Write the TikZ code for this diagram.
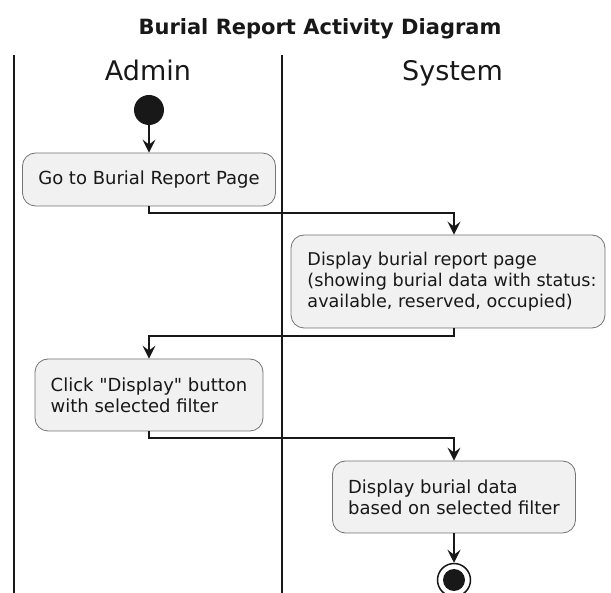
\documentclass[tikz,border=0pt]{standalone}
\usepackage{fontspec}
\setmainfont{DejaVu Sans}
\newfontfamily\dv{DejaVu Sans}
\usetikzlibrary{arrows.meta,calc}
\definecolor{ink}{HTML}{181818}
\definecolor{boxfill}{HTML}{F1F1F1}
\begin{document}
\begin{tikzpicture}[x=1pt,y=-1pt,
  lane/.style={draw=ink, line width=1.8pt},
  activity/.style={draw=ink!60, fill=boxfill, line width=0.8pt, rounded corners=13pt,
    align=left, font=\dv\fontsize{18}{21}\selectfont, inner sep=0pt, text=ink},
  flow/.style={draw=ink, line width=1.5pt, -{Stealth[length=13pt,width=13pt,inset=5pt]}},
  header/.style={font=\dv\fontsize{27}{32}\selectfont, anchor=base, text=ink},
  titletext/.style={font=\dv\bfseries\fontsize{21}{25}\selectfont, anchor=base, text=ink},
  startdot/.style={circle, fill=ink, minimum size=30pt, inner sep=0pt},
  endring/.style={circle, draw=ink, line width=1.5pt, fill=white, minimum size=33pt, inner sep=0pt},
  enddot/.style={circle, fill=ink, minimum size=22pt, inner sep=0pt}]
\useasboundingbox (0,0) rectangle (611,593);
\clip (0,0) rectangle (611,593);
\fill[white] (0,0) rectangle (611,593);

\node[titletext] (title) at (320,35) {Burial Report Activity Diagram};

\coordinate (l1t) at (14,55);  \coordinate (l1b) at (14,593);
\coordinate (l2t) at (282,55); \coordinate (l2b) at (282,593);
\draw[lane] (l1t) -- (l1b);
\draw[lane] (l2t) -- (l2b);

\node[header] (hadmin) at (148,81) {Admin};
\node[header] (hsys) at (452.5,81) {System};

\node[startdot] (start) at (149,110) {};

\node[activity, minimum width=253pt, minimum height=53pt] (b1) at (149,179.5) {Go to Burial Report Page};
\node[activity, minimum width=314pt, minimum height=93pt, font=\dv\fontsize{17.6}{21}\selectfont] (b2) at (448,281.5)
  {\hspace*{8pt}Display burial report page\\\hspace*{8pt}(showing burial data with status:\\\hspace*{8pt}available, reserved, occupied)};
\node[activity, minimum width=228pt, minimum height=72pt] (b3) at (149,395)
  {Click "Display" button\\with selected filter};
\node[activity, minimum width=243pt, minimum height=72pt] (b4) at (454,497)
  {Display burial data\\based on selected filter};

\node[endring] (end) at (454,580) {};
\node[enddot] (endin) at (end) {};

\coordinate (j1) at (300,213);
\coordinate (j2) at (300,336);
\coordinate (j3) at (300,438);

\draw[flow] (start) -- (b1);
\draw[flow] (b1.south) |- (j1) -| ([xshift=6pt]b2.north);
\draw[flow] ([xshift=6pt]b2.south) |- (j2) -| (b3.north);
\draw[flow] (b3.south) |- (j3) -| (b4.north);
\draw[flow] (b4) -- (end);
\end{tikzpicture}
\end{document}
